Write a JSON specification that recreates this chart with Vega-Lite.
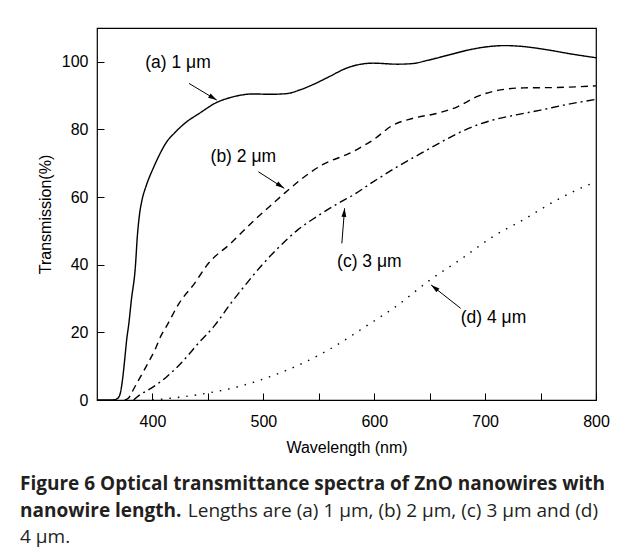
{
  "$schema": "https://vega.github.io/schema/vega-lite/v6.json",
  "autosize": {"type": "none"},
  "width": 499,
  "height": 372,
  "padding": {"left": 97, "top": 28, "right": 29, "bottom": 153},
  "background": "white",
  "datasets": {
    "curves": [
      {"s": "a", "wl": 350, "t": 0}, {"s": "a", "wl": 362, "t": 0}, {"s": "a", "wl": 366, "t": 0.1}, {"s": "a", "wl": 369, "t": 0.6}, {"s": "a", "wl": 371, "t": 2}, {"s": "a", "wl": 373, "t": 6}, {"s": "a", "wl": 375, "t": 12}, {"s": "a", "wl": 377, "t": 18.5}, {"s": "a", "wl": 378.5, "t": 22}, {"s": "a", "wl": 381, "t": 29.6}, {"s": "a", "wl": 384.6, "t": 39.4}, {"s": "a", "wl": 386.4, "t": 48.5}, {"s": "a", "wl": 388.2, "t": 54.5}, {"s": "a", "wl": 390.5, "t": 59}, {"s": "a", "wl": 394, "t": 63}, {"s": "a", "wl": 400.8, "t": 68.6}, {"s": "a", "wl": 406, "t": 72.3}, {"s": "a", "wl": 412.8, "t": 76.3}, {"s": "a", "wl": 420, "t": 79}, {"s": "a", "wl": 431, "t": 82.3}, {"s": "a", "wl": 442, "t": 84.7}, {"s": "a", "wl": 458, "t": 88}, {"s": "a", "wl": 470, "t": 89.4}, {"s": "a", "wl": 479, "t": 90.1}, {"s": "a", "wl": 490, "t": 90.5}, {"s": "a", "wl": 506, "t": 90.4}, {"s": "a", "wl": 521, "t": 90.6}, {"s": "a", "wl": 533, "t": 91.7}, {"s": "a", "wl": 545, "t": 93.3}, {"s": "a", "wl": 560, "t": 95.7}, {"s": "a", "wl": 574, "t": 98}, {"s": "a", "wl": 585, "t": 99.1}, {"s": "a", "wl": 599, "t": 99.6}, {"s": "a", "wl": 621, "t": 99.3}, {"s": "a", "wl": 635, "t": 99.5}, {"s": "a", "wl": 649, "t": 100.5}, {"s": "a", "wl": 667, "t": 102}, {"s": "a", "wl": 685, "t": 103.5}, {"s": "a", "wl": 703, "t": 104.5}, {"s": "a", "wl": 718, "t": 104.8}, {"s": "a", "wl": 735, "t": 104.5}, {"s": "a", "wl": 757, "t": 103.5}, {"s": "a", "wl": 778, "t": 102.3}, {"s": "a", "wl": 800, "t": 101.2},
      {"s": "b", "wl": 375, "t": 0}, {"s": "b", "wl": 378.5, "t": 0.6}, {"s": "b", "wl": 381, "t": 2}, {"s": "b", "wl": 386, "t": 5}, {"s": "b", "wl": 392, "t": 8.5}, {"s": "b", "wl": 397, "t": 11.5}, {"s": "b", "wl": 402.5, "t": 15}, {"s": "b", "wl": 408, "t": 19.2}, {"s": "b", "wl": 413, "t": 22}, {"s": "b", "wl": 424, "t": 28.6}, {"s": "b", "wl": 438, "t": 34.5}, {"s": "b", "wl": 450, "t": 40.2}, {"s": "b", "wl": 470.5, "t": 46.3}, {"s": "b", "wl": 492, "t": 53.2}, {"s": "b", "wl": 510, "t": 58.5}, {"s": "b", "wl": 520, "t": 61.4}, {"s": "b", "wl": 535, "t": 65.5}, {"s": "b", "wl": 553, "t": 69.5}, {"s": "b", "wl": 578, "t": 73}, {"s": "b", "wl": 599, "t": 76.9}, {"s": "b", "wl": 617, "t": 81.3}, {"s": "b", "wl": 635, "t": 83.3}, {"s": "b", "wl": 657, "t": 84.8}, {"s": "b", "wl": 675, "t": 86.7}, {"s": "b", "wl": 692.5, "t": 89.7}, {"s": "b", "wl": 714, "t": 91.7}, {"s": "b", "wl": 735, "t": 92.3}, {"s": "b", "wl": 764, "t": 92.4}, {"s": "b", "wl": 800, "t": 92.9},
      {"s": "c", "wl": 383, "t": 0}, {"s": "c", "wl": 388.6, "t": 1.5}, {"s": "c", "wl": 399, "t": 3.5}, {"s": "c", "wl": 413, "t": 6.9}, {"s": "c", "wl": 427.5, "t": 11.5}, {"s": "c", "wl": 442, "t": 17}, {"s": "c", "wl": 456, "t": 22}, {"s": "c", "wl": 470.5, "t": 28.5}, {"s": "c", "wl": 485, "t": 34.5}, {"s": "c", "wl": 499, "t": 40}, {"s": "c", "wl": 513.5, "t": 45}, {"s": "c", "wl": 531, "t": 50.3}, {"s": "c", "wl": 549, "t": 54.4}, {"s": "c", "wl": 571, "t": 58.8}, {"s": "c", "wl": 580, "t": 60.4}, {"s": "c", "wl": 599, "t": 64.5}, {"s": "c", "wl": 621, "t": 69}, {"s": "c", "wl": 642, "t": 72.9}, {"s": "c", "wl": 664, "t": 76.9}, {"s": "c", "wl": 685, "t": 80.3}, {"s": "c", "wl": 707, "t": 82.8}, {"s": "c", "wl": 728, "t": 84.3}, {"s": "c", "wl": 750, "t": 85.7}, {"s": "c", "wl": 771, "t": 87.2}, {"s": "c", "wl": 800, "t": 88.9},
      {"s": "d", "wl": 400, "t": 0}, {"s": "d", "wl": 424, "t": 0.8}, {"s": "d", "wl": 449, "t": 2}, {"s": "d", "wl": 478, "t": 4}, {"s": "d", "wl": 506, "t": 6.9}, {"s": "d", "wl": 535, "t": 10.8}, {"s": "d", "wl": 564, "t": 15.8}, {"s": "d", "wl": 592, "t": 21.7}, {"s": "d", "wl": 621, "t": 28}, {"s": "d", "wl": 649.5, "t": 35.3}, {"s": "d", "wl": 678, "t": 41.6}, {"s": "d", "wl": 707, "t": 48.3}, {"s": "d", "wl": 735, "t": 53.4}, {"s": "d", "wl": 764, "t": 59}, {"s": "d", "wl": 793, "t": 63.6}, {"s": "d", "wl": 800, "t": 64.5}
    ],
    "labels": [
      {"s": "a", "wl": 393.5, "t": 99.6, "text": "(a) 1 μm"},
      {"s": "b", "wl": 452.4, "t": 71.9, "text": "(b) 2 μm"},
      {"s": "c", "wl": 566.5, "t": 40.9, "text": "(c) 3 μm"},
      {"s": "d", "wl": 678, "t": 24.2, "text": "(d) 4 μm"}
    ],
    "arrows": [
      {"s": "a", "wl0": 433, "t0": 93.6, "wl1": 458, "t1": 88.7},
      {"s": "b", "wl0": 495.5, "t0": 67.5, "wl1": 518.8, "t1": 62.6},
      {"s": "c", "wl0": 570.8, "t0": 46.3, "wl1": 573.3, "t1": 56.7},
      {"s": "d", "wl0": 678, "t0": 27.1, "wl1": 651.3, "t1": 34}
    ]
  },
  "title": {
    "text": ["Figure 6 Optical transmittance spectra of ZnO nanowires with", "nanowire length."],
    "subtitle": ["\u200b\u00a0\u00a0\u00a0\u00a0\u00a0\u00a0\u00a0\u00a0\u00a0\u00a0\u00a0\u00a0\u00a0\u00a0\u00a0\u00a0\u00a0\u00a0\u00a0\u00a0\u00a0\u00a0\u00a0\u00a0\u00a0\u00a0\u00a0\u00a0\u00a0\u00a0\u00a0\u00a0\u00a0\u00a0Lengths are (a) 1 µm, (b) 2 µm, (c) 3 µm and (d)", "4 µm."],
    "orient": "bottom",
    "anchor": "start",
    "frame": "group",
    "dx": -77,
    "offset": 20,
    "font": "Open Sans",
    "fontSize": 19,
    "fontWeight": "bold",
    "color": "#231f20",
    "lineHeight": 26.5,
    "subtitleFont": "Open Sans",
    "subtitleFontSize": 19,
    "subtitleFontWeight": "normal",
    "subtitleColor": "#231f20",
    "subtitleLineHeight": 26.5,
    "subtitlePadding": -19
  },
  "layer": [
    {
      "data": {"name": "curves"},
      "mark": {"type": "line", "interpolate": "monotone", "color": "black", "strokeWidth": 1.4},
      "encoding": {
        "x": {"field": "wl", "type": "quantitative", "scale": {"domain": [350, 800], "nice": false},
          "axis": {"title": "Wavelength (nm)", "values": [400, 450, 500, 550, 600, 650, 700, 750, 800],
            "labelExpr": "datum.value % 100 === 0 ? datum.label : ''"}},
        "y": {"field": "t", "type": "quantitative", "scale": {"domain": [0, 110], "nice": false},
          "axis": {"title": "Transmission(%)", "values": [0, 10, 20, 30, 40, 50, 60, 70, 80, 90, 100],
            "labelExpr": "datum.value % 20 === 0 ? datum.label : ''"}},
        "detail": {"field": "s"},
        "strokeDash": {"field": "s", "type": "nominal", "legend": null,
          "scale": {"domain": ["a", "b", "c", "d"], "range": [[1, 0], [7, 5], [8, 4, 2, 4], [1.5, 7]]}}
      }
    },
    {
      "data": {"name": "labels"},
      "mark": {"type": "text", "align": "left", "baseline": "middle", "font": "Liberation Sans", "fontSize": 17.5, "color": "black"},
      "encoding": {
        "x": {"field": "wl", "type": "quantitative"},
        "y": {"field": "t", "type": "quantitative"},
        "text": {"field": "text"}
      }
    },
    {
      "data": {"name": "arrows"},
      "mark": {"type": "rule", "color": "black", "strokeWidth": 1},
      "encoding": {
        "x": {"field": "wl0", "type": "quantitative"},
        "y": {"field": "t0", "type": "quantitative"},
        "x2": {"field": "wl1"},
        "y2": {"field": "t1"}
      }
    },
    {
      "data": {"name": "arrows"},
      "transform": [{"filter": "datum.s === 'a'"}],
      "mark": {"type": "point", "shape": "M0,0L0.28,1L-0.28,1Z", "filled": true, "color": "black", "opacity": 1, "size": 300, "angle": 121},
      "encoding": {"x": {"field": "wl1", "type": "quantitative"}, "y": {"field": "t1", "type": "quantitative"}}
    },
    {
      "data": {"name": "arrows"},
      "transform": [{"filter": "datum.s === 'b'"}],
      "mark": {"type": "point", "shape": "M0,0L0.28,1L-0.28,1Z", "filled": true, "color": "black", "opacity": 1, "size": 300, "angle": 123},
      "encoding": {"x": {"field": "wl1", "type": "quantitative"}, "y": {"field": "t1", "type": "quantitative"}}
    },
    {
      "data": {"name": "arrows"},
      "transform": [{"filter": "datum.s === 'c'"}],
      "mark": {"type": "point", "shape": "M0,0L0.28,1L-0.28,1Z", "filled": true, "color": "black", "opacity": 1, "size": 300, "angle": 5},
      "encoding": {"x": {"field": "wl1", "type": "quantitative"}, "y": {"field": "t1", "type": "quantitative"}}
    },
    {
      "data": {"name": "arrows"},
      "transform": [{"filter": "datum.s === 'd'"}],
      "mark": {"type": "point", "shape": "M0,0L0.28,1L-0.28,1Z", "filled": true, "color": "black", "opacity": 1, "size": 300, "angle": 308},
      "encoding": {"x": {"field": "wl1", "type": "quantitative"}, "y": {"field": "t1", "type": "quantitative"}}
    }
  ],
  "config": {
    "view": {"stroke": "black", "strokeWidth": 1.2},
    "axis": {
      "domain": false,
      "grid": false,
      "ticks": true,
      "tickSize": -7,
      "tickColor": "black",
      "tickWidth": 1,
      "labelFont": "Liberation Sans",
      "labelFontSize": 16,
      "labelColor": "black",
      "titleFont": "Liberation Sans",
      "titleFontSize": 16,
      "titleFontWeight": "normal",
      "titleColor": "black"
    },
    "axisX": {"labelPadding": 20, "titlePadding": 10, "labelFlush": false},
    "axisY": {"labelPadding": 16, "titlePadding": 8}
  }
}
